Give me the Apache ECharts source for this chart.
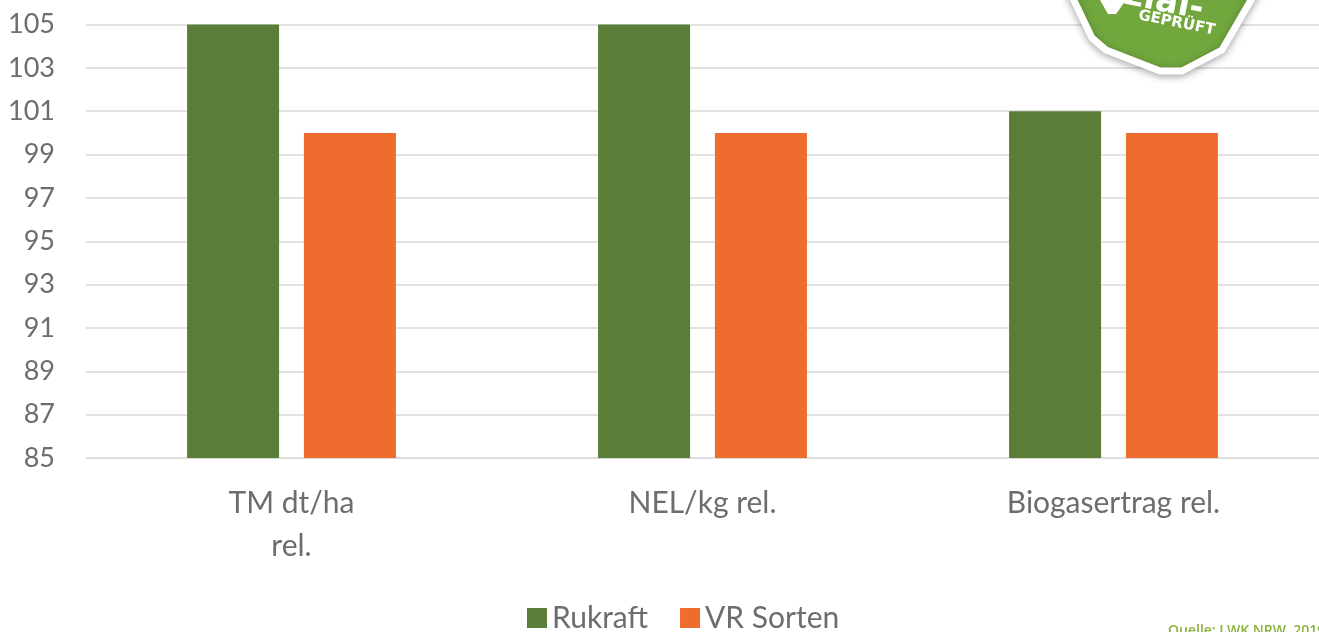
<!DOCTYPE html>
<html>
<head>
<meta charset="utf-8">
<script src="https://cdn.jsdelivr.net/npm/echarts@6/dist/echarts.min.js"></script>
<style>
  html, body { margin: 0; padding: 0; background: #fff; }
  #chart { width: 1319px; height: 632px; }
</style>
</head>
<body>
<div id="chart"></div>
<script>
var categories = ['TM dt/ha\nrel.', 'NEL/kg rel.', 'Biogasertrag rel.']
var rukraft = [105, 105, 101]
var vrSorten = [100, 100, 100]
var seriesNames = ['Rukraft', 'VR Sorten']

var chart = echarts.init(document.getElementById('chart'))
var textColor = '#6b6d70'

chart.setOption({
  animation: false,
  textStyle: { fontFamily: 'Lato' },
  grid: { left: 86, right: -2, top: 24.5, bottom: 174 },
  legend: {
    data: seriesNames,
    bottom: -6,
    left: 522,
    itemWidth: 20,
    itemHeight: 20,
    itemGap: 32,
    icon: 'rect',
    textStyle: { fontSize: 30, color: textColor, fontFamily: 'Lato' }
  },
  xAxis: {
    type: 'category',
    data: categories,
    axisLine: { show: true, lineStyle: { color: '#d9d9d9', width: 1 } },
    axisTick: { show: false },
    axisLabel: { fontSize: 30, color: textColor, margin: 24, lineHeight: 43 }
  },
  yAxis: {
    type: 'value',
    min: 85,
    max: 105,
    interval: 2,
    axisLine: { show: false },
    axisTick: { show: false },
    splitLine: { lineStyle: { color: '#d9d9d9', width: 1.5 } },
    axisLabel: { fontSize: 27, color: textColor, margin: 31 }
  },
  series: [{
    name: seriesNames[0],
    type: 'bar',
    data: rukraft,
    barWidth: 92,
    barGap: '27%',
    itemStyle: { color: '#5a7e37' }
  }, {
    name: seriesNames[1],
    type: 'bar',
    data: vrSorten,
    barWidth: 92,
    itemStyle: { color: '#ee6c2e' }
  }],
  graphic: [{
    type: 'polygon',
    shape: {
      points: [[1068, -12], [1092, 38], [1106, 50], [1160, 71], [1182, 71], [1222, 50], [1258, -12]]
    },
    style: {
      fill: '#72a73e',
      stroke: '#fff',
      lineWidth: 7,
      lineJoin: 'round',
      shadowBlur: 8,
      shadowColor: 'rgba(0,0,0,0.3)',
      shadowOffsetY: 2
    },
    z: 100
  }, {
    type: 'polygon',
    shape: { points: [[1100, 0], [1126, 0], [1116, 14], [1108, 14]] },
    style: { fill: '#fff' },
    z: 101
  }, {
    type: 'text',
    x: 1128,
    y: -22,
    rotation: -0.2,
    style: { text: 'zial-', fill: '#fff', font: 'bold 34px "DejaVu Sans"' },
    z: 101
  }, {
    type: 'text',
    x: 1140,
    y: 8,
    rotation: -0.2,
    style: { text: 'GEPRÜFT', fill: '#fff', font: 'bold 15px "DejaVu Sans"' },
    z: 101
  }, {
    type: 'text',
    x: 1168,
    y: 624,
    style: { text: 'Quelle: LWK NRW, 2019', fill: '#8bb33c', font: '600 14px "Open Sans"' },
    z: 101
  }]
})
</script>
</body>
</html>
